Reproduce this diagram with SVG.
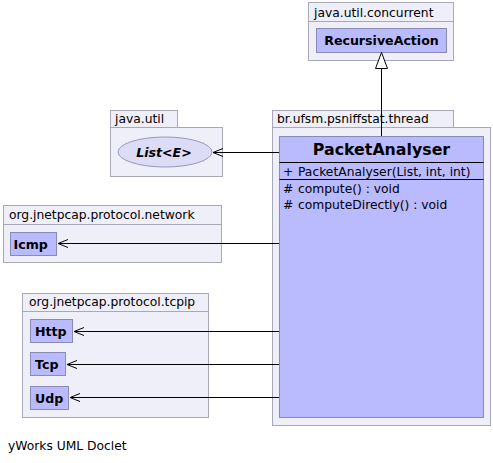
<svg xmlns="http://www.w3.org/2000/svg" width="493" height="463" viewBox="0 0 493 463">
<defs>
<style>
.pkg{fill:#efeffa;stroke:#a8a8b8;stroke-width:1}
.cls{fill:#babaff;stroke:#8a8ab4;stroke-width:1}
.pl{font-family:"DejaVu Sans",sans-serif;font-size:12.3px;fill:#000}
.cn{font-family:"DejaVu Sans",sans-serif;font-size:12.6px;font-weight:bold;fill:#000}
.mem{font-family:"DejaVu Sans",sans-serif;font-size:12.3px;fill:#000}
.edge{stroke:#000;stroke-width:1;fill:none}
</style>
<marker id="open" markerWidth="12" markerHeight="10" refX="11" refY="5" orient="auto" markerUnits="userSpaceOnUse">
<path d="M1,1 L11,5 L1,9" fill="none" stroke="#000" stroke-width="1"/>
</marker>
</defs>
<rect width="493" height="463" fill="#fff"/>

<g id="pkg-concurrent">
<rect class="pkg" x="308.5" y="2.5" width="145" height="19"/>
<rect class="pkg" x="308.5" y="21.5" width="145" height="39"/>
<text class="pl" x="314" y="17">java.util.concurrent</text>
<g id="RecursiveAction">
<rect class="cls" x="316.5" y="28.5" width="130" height="24"/>
<text class="cn" x="381.5" y="45" text-anchor="middle">RecursiveAction</text>
</g>
</g>

<g id="pkg-javautil">
<rect class="pkg" x="110.5" y="110.5" width="67" height="17"/>
<rect class="pkg" x="110.5" y="127.5" width="112" height="49"/>
<text class="pl" x="115" y="123">java.util</text>
<g id="List">
<ellipse cx="165" cy="152" rx="47" ry="15" fill="#dcdcf6" stroke="#9898b8"/>
<text class="cn" x="164" y="156.5" text-anchor="middle" font-style="italic">List&lt;E&gt;</text>
</g>
</g>

<g id="pkg-thread">
<rect class="pkg" x="272.5" y="110.5" width="181" height="17"/>
<rect class="pkg" x="272.5" y="127.5" width="218" height="298"/>
<text class="pl" x="277" y="123">br.ufsm.psniffstat.thread</text>
<g id="PacketAnalyser">
<rect class="cls" x="279.5" y="136.5" width="204" height="281"/>
<line x1="279.5" y1="162.5" x2="483.5" y2="162.5" stroke="#000"/>
<line x1="279.5" y1="179.5" x2="483.5" y2="179.5" stroke="#000"/>
<text x="381.5" y="155" text-anchor="middle" font-family="DejaVu Sans, sans-serif" font-size="15.8" font-weight="bold">PacketAnalyser</text>
<text class="mem" x="283" y="176">+</text>
<text class="mem" x="298" y="176">PacketAnalyser(List, int, int)</text>
<text class="mem" x="283" y="193">#</text>
<text class="mem" x="298" y="193">compute() : void</text>
<text class="mem" x="283" y="209">#</text>
<text class="mem" x="298" y="209">computeDirectly() : void</text>
</g>
</g>

<g id="pkg-network">
<rect class="pkg" x="3.5" y="205.5" width="218" height="19"/>
<rect class="pkg" x="3.5" y="224.5" width="218" height="38"/>
<text class="pl" x="9" y="219">org.jnetpcap.protocol.network</text>
<g id="Icmp">
<rect class="cls" x="10.5" y="232.5" width="46" height="23"/>
<text class="cn" x="13.5" y="249">Icmp</text>
</g>
</g>

<g id="pkg-tcpip">
<rect class="pkg" x="22.5" y="293.5" width="186" height="18"/>
<rect class="pkg" x="22.5" y="311.5" width="186" height="106"/>
<text class="pl" x="29" y="306">org.jnetpcap.protocol.tcpip</text>
<g id="Http">
<rect class="cls" x="30.5" y="319.5" width="42" height="23"/>
<text class="cn" x="35" y="336">Http</text>
</g>
<g id="Tcp">
<rect class="cls" x="30.5" y="352.5" width="35" height="23"/>
<text class="cn" x="35" y="369">Tcp</text>
</g>
<g id="Udp">
<rect class="cls" x="30.5" y="386.5" width="38" height="23"/>
<text class="cn" x="35" y="403">Udp</text>
</g>
</g>

<g id="connectors">
<line class="edge" x1="381.5" y1="136" x2="381.5" y2="68"/>
<path d="M381.5,52.5 L375.5,68.5 L387.5,68.5 Z" fill="#fff" stroke="#000"/>
<line class="edge" x1="279" y1="152.5" x2="213" y2="152.5" marker-end="url(#open)"/>
<line class="edge" x1="279" y1="243.5" x2="58" y2="243.5" marker-end="url(#open)"/>
<line class="edge" x1="279" y1="331.5" x2="74" y2="331.5" marker-end="url(#open)"/>
<line class="edge" x1="279" y1="364.5" x2="67" y2="364.5" marker-end="url(#open)"/>
<line class="edge" x1="279" y1="397.5" x2="70" y2="397.5" marker-end="url(#open)"/>
</g>

<text class="pl" x="8" y="450">yWorks UML Doclet</text>
</svg>
